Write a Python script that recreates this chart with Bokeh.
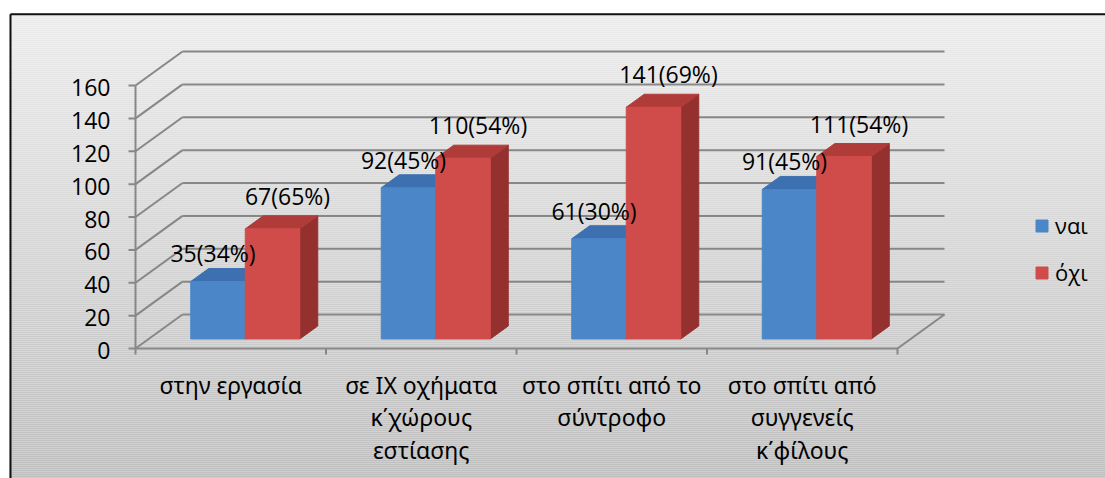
import numpy as np
from bokeh.plotting import figure
from bokeh.models import Range1d, Legend, LegendItem
from bokeh.core.properties import value
from bokeh.embed import file_html
from bokeh.resources import INLINE

# ---------------- data ----------------
categories = ["στην εργασία",
              "σε ΙΧ οχήματα\nκ΄χώρους\nεστίασης",
              "στο σπίτι από το\nσύντροφο",
              "στο σπίτι από\nσυγγενείς\nκ΄φίλους"]
series_names = ["ναι", "όχι"]
yes_values = [35, 92, 61, 91]
no_values = [67, 110, 141, 111]
yes_pct = [34, 45, 30, 45]
no_pct = [65, 54, 69, 54]
y_ticks = [0, 20, 40, 60, 80, 100, 120, 140, 160]

# ---------------- geometry ----------------
W, H = 1105, 478
KX = 190.5      # px per category
KY = 1.64375    # px per value unit
X0 = 135        # px of first category boundary
Y0 = 348        # px of value 0
PX, PY = 1.0 / KX, 1.0 / KY
x_start, x_end = -X0 / KX, (W - X0) / KX
y_start, y_end = -(H - Y0) / KY, Y0 / KY

def cx(px):  # screen px -> data x
    return (px - X0) / KX

def cy(py):  # screen px (from top) -> data y
    return (Y0 - py) / KY

n_cat = len(categories)
DX, DY = 47 * PX, 34 * PY          # full depth of the 3D box
FX, FY = 14.5 * PX, 9.5 * PY       # bar front offset into depth
BX, BY = 18 * PX, 13 * PY          # bar depth
BW = 54.5 * PX                     # bar width

FONT = value("Open Sans")

p = figure(width=W, height=H, x_range=Range1d(x_start, x_end),
           y_range=Range1d(y_start, y_end), output_backend="svg",
           toolbar_location=None, x_axis_type=None, y_axis_type=None,
           min_border=0)
p.outline_line_color = None
p.background_fill_color = "white"
p.border_fill_color = "white"

# background gradient
top_c, bot_c = np.array([236, 236, 236]), np.array([190, 190, 190])
step = 2
ys = np.arange(13, H, step)
cols = []
for yy in ys:
    t = (yy - 13) / (H - 13)
    c = (top_c + (bot_c - top_c) * t).round().astype(int)
    cols.append("#%02x%02x%02x" % tuple(c))
p.quad(left=[cx(9)] * len(ys), right=[x_end] * len(ys),
       top=[cy(y) for y in ys], bottom=[cy(y + step) for y in ys],
       fill_color=cols, line_color=None)

# outer chart border (top & left)
p.segment(x0=[cx(10), cx(10)], y0=[cy(13.8), cy(13.8)], x1=[x_end, cx(10)], y1=[cy(13.8), y_start],
          line_color="#111111", line_width=2)

GRID = "#878787"
nt = len(y_ticks)
# back wall gridlines
p.segment(x0=[DX] * nt, y0=[t + DY for t in y_ticks], x1=[n_cat + DX] * nt,
          y1=[t + DY for t in y_ticks], line_color=GRID, line_width=2)
# left wall diagonals
p.segment(x0=[0] * nt, y0=y_ticks, x1=[DX] * nt, y1=[t + DY for t in y_ticks],
          line_color=GRID, line_width=2)
# floor front edge and right diagonal
p.segment(x0=[0, n_cat], y0=[0, 0], x1=[n_cat, n_cat + DX], y1=[0, DY],
          line_color=GRID, line_width=2)
# value axis line + ticks
p.segment(x0=[0], y0=[y_ticks[0]], x1=[0], y1=[y_ticks[-1]], line_color=GRID, line_width=2)
p.segment(x0=[-7 * PX] * nt, y0=y_ticks, x1=[0] * nt, y1=y_ticks, line_color=GRID, line_width=2)
# category ticks (at boundaries)
bounds = list(range(n_cat + 1))
p.segment(x0=bounds, y0=[0] * len(bounds), x1=bounds, y1=[-6 * PY] * len(bounds),
          line_color=GRID, line_width=2)

# y tick labels
p.text(x=[0] * nt, y=y_ticks, text=[str(t) for t in y_ticks], x_offset=-25, y_offset=2,
       text_align="right", text_baseline="middle", text_font=FONT,
       text_font_size="23px", text_color="#000000")

# category labels
p.text(x=[i + 0.5 for i in range(n_cat)], y=[0] * n_cat, text=categories,
       y_offset=20, text_align="center", text_baseline="top", text_font=value("Noto Sans"),
       text_font_size="23px", text_line_height=1.02, text_color="#000000")

# 3D bars
styles = [
    dict(front="#4A86C8", top="#3C70B0", side="#2F5C94"),
    dict(front="#D04C4A", top="#B03C3A", side="#94302E"),
]
front_renderers = []
for s, vals in enumerate([yes_values, no_values]):
    st = styles[s]
    lefts = [i + 0.5 + (s - 1) * BW + FX for i in range(n_cat)]
    rights = [l + BW for l in lefts]
    bottoms = [FY] * n_cat
    tops = [v + FY for v in vals]
    side_xs = [[r, r + BX, r + BX, r] for r in rights]
    side_ys = [[b, b + BY, t + BY, t] for b, t in zip(bottoms, tops)]
    p.patches(xs=side_xs, ys=side_ys, fill_color=st["side"], line_color=st["side"], line_width=1)
    top_xs = [[l, r, r + BX, l + BX] for l, r in zip(lefts, rights)]
    top_ys = [[t, t, t + BY, t + BY] for t in tops]
    p.patches(xs=top_xs, ys=top_ys, fill_color=st["top"], line_color=st["top"], line_width=1)
    fr = p.quad(left=lefts, right=rights, bottom=bottoms, top=tops,
                fill_color=st["front"], line_color=st["front"], line_width=1)
    front_renderers.append(fr)

# data labels
label_dx = [-5, 15]
label_dy = [-28, -33]
for s, (vals, pcts) in enumerate([(yes_values, yes_pct), (no_values, no_pct)]):
    centers = [i + 0.5 + (s - 0.5) * BW + FX for i in range(n_cat)]
    p.text(x=centers, y=[v + FY for v in vals],
           text=["%d(%d%%)" % (v, pc) for v, pc in zip(vals, pcts)],
           x_offset=label_dx[s], y_offset=label_dy[s],
           text_align="center", text_baseline="middle", text_font=FONT,
           text_font_size="23px", text_color="#000000")

# legend
legend = Legend(items=[LegendItem(label=series_names[0], renderers=[front_renderers[0]]),
                       LegendItem(label=series_names[1], renderers=[front_renderers[1]])],
                location=(1034, 191), orientation="vertical",
                background_fill_alpha=0, border_line_color=None,
                glyph_width=15, glyph_height=15, label_height=15,
                label_standoff=6, spacing=17, padding=0, margin=0,
                label_text_font="Open Sans", label_text_font_size="22px",
                label_text_color="#000000")
p.add_layout(legend)

open("out.html", "w").write(file_html(p, INLINE))
